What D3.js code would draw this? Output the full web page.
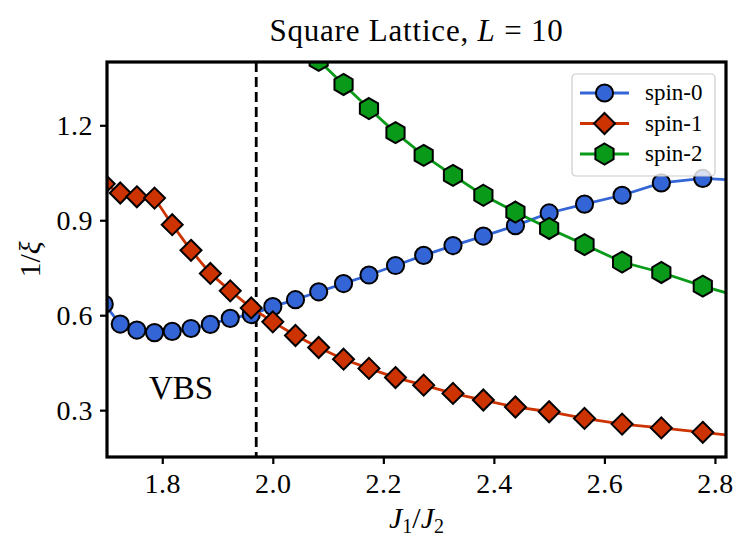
<!DOCTYPE html>
<html>
<head>
<meta charset="utf-8">
<script src="https://cdn.jsdelivr.net/npm/d3@7"></script>
<style>
  body { margin: 0; background: #fff; }
  svg text { font-family: "Liberation Serif", "DejaVu Serif", serif; fill: #000; }
</style>
</head>
<body>
<div id="chart"></div>
<script>
// J1/J2 values (points are evenly spaced in J2/J1)
const jRatio = [1.695, 1.724, 1.754, 1.786, 1.818, 1.852, 1.887, 1.923, 1.961, 2.000,
                2.041, 2.083, 2.128, 2.174, 2.222, 2.273, 2.326, 2.381, 2.439, 2.500,
                2.564, 2.632, 2.703, 2.778, 2.857];
const spin0 = [0.635, 0.572, 0.553, 0.545, 0.549, 0.558, 0.571, 0.590, 0.602, 0.627,
               0.649, 0.674, 0.700, 0.727, 0.757, 0.789, 0.820, 0.850, 0.883, 0.923,
               0.951, 0.979, 1.018, 1.032, 1.025];
const spin1 = [1.015, 0.986, 0.974, 0.970, 0.886, 0.805, 0.732, 0.677, 0.623, 0.579,
               0.536, 0.498, 0.461, 0.432, 0.403, 0.379, 0.353, 0.332, 0.310, 0.295,
               0.274, 0.256, 0.244, 0.230, 0.215];
// spin-2 is off the top of the plot for the small J1/J2 points
const spin2 = [null, null, null, null, null, null, null, null, null, null,
               null, 1.405, 1.329, 1.253, 1.177, 1.105, 1.042, 0.979, 0.926, 0.874,
               0.823, 0.768, 0.735, 0.692, 0.652];
const seriesNames = ["spin-0", "spin-1", "spin-2"];
const xTicks = [1.8, 2.0, 2.2, 2.4, 2.6, 2.8];
const yTicks = [0.3, 0.6, 0.9, 1.2];
const transitionJ = 1.97;

const W = 750, H = 554;
const margin = {top: 62, right: 24, bottom: 97, left: 107};
const w = W - margin.left - margin.right;
const h = H - margin.top - margin.bottom;

const x = d3.scaleLinear().domain([1.70, 2.82]).range([0, w]);
const y = d3.scaleLinear().domain([0.152, 1.40]).range([h, 0]);

const svg = d3.select("#chart").append("svg")
    .attr("width", W)
    .attr("height", H);

svg.append("defs").append("clipPath")
    .attr("id", "plotclip")
  .append("rect")
    .attr("width", w)
    .attr("height", h);

const g = svg.append("g")
    .attr("transform", `translate(${margin.left},${margin.top})`);

const plot = g.append("g").attr("clip-path", "url(#plotclip)");

// dashed vertical line at the transition
plot.append("line")
    .attr("x1", x(transitionJ)).attr("x2", x(transitionJ))
    .attr("y1", 0).attr("y2", h)
    .attr("stroke", "#000")
    .attr("stroke-width", 2.8)
    .attr("stroke-dasharray", "10,5");

const styles = [
  {color: "#3465d6", marker: "circle"},
  {color: "#cc3300", marker: "diamond"},
  {color: "#0a9a1a", marker: "hexagon"}
];

function markerPath(type) {
  if (type === "diamond") {
    const r = 10.5;
    return `M0,${-r}L${r},0L0,${r}L${-r},0Z`;
  }
  if (type === "hexagon") {
    const r = 10.5;
    const pts = d3.range(6).map(k => {
      const a = -Math.PI / 2 + k * Math.PI / 3;
      return [r * Math.cos(a), r * Math.sin(a)];
    });
    return "M" + pts.map(p => p.join(",")).join("L") + "Z";
  }
  return null;
}

function drawMarker(sel, type, color) {
  if (type === "circle") {
    sel.append("circle").attr("r", 8.6)
      .attr("fill", color).attr("stroke", "#000").attr("stroke-width", 2);
  } else {
    sel.append("path").attr("d", markerPath(type))
      .attr("fill", color).attr("stroke", "#000").attr("stroke-width", 2)
      .attr("stroke-linejoin", "miter");
  }
}

const line = d3.line()
    .defined(d => d[1] !== null)
    .x(d => x(d[0]))
    .y(d => y(d[1]));

[spin0, spin1, spin2].forEach((vals, i) => {
  const pts = jRatio.map((j, k) => [j, vals[k]]);
  plot.append("path")
      .attr("d", line(pts))
      .attr("fill", "none")
      .attr("stroke", styles[i].color)
      .attr("stroke-width", 2.8);
  plot.selectAll(".m" + i)
    .data(pts.filter(d => d[1] !== null))
    .enter().append("g")
      .attr("class", "m" + i)
      .attr("transform", d => `translate(${x(d[0])},${y(d[1])})`)
      .each(function() { drawMarker(d3.select(this), styles[i].marker, styles[i].color); });
});

// VBS label
g.append("text")
    .attr("x", x(1.834))
    .attr("y", y(0.335))
    .attr("text-anchor", "middle")
    .style("font-size", "33px")
    .text("VBS");

// axes
const xAxis = g.append("g")
    .attr("transform", `translate(0,${h})`)
    .call(d3.axisBottom(x).tickValues(xTicks).tickFormat(d3.format(".1f")).tickSize(7).tickPadding(9));
const yAxis = g.append("g")
    .call(d3.axisLeft(y).tickValues(yTicks).tickFormat(d3.format(".1f")).tickSize(7).tickPadding(7));
[xAxis, yAxis].forEach(a => {
  a.select(".domain").remove();
  a.selectAll(".tick line").attr("stroke", "#000").attr("stroke-width", 2.2);
  a.selectAll(".tick text").style("font-size", "28px").attr("fill", "#000")
    .style("font-family", "'Liberation Serif', serif")
    .style("letter-spacing", "0.5px");
});

// frame
g.append("rect")
    .attr("width", w)
    .attr("height", h)
    .attr("fill", "none")
    .attr("stroke", "#000")
    .attr("stroke-width", 3.2);

// legend
const legend = g.append("g").attr("transform", `translate(${w - 154},12)`);
legend.append("rect")
    .attr("width", 143)
    .attr("height", 102)
    .attr("rx", 4)
    .attr("fill", "#fff")
    .attr("fill-opacity", 0.8)
    .attr("stroke", "#cccccc")
    .attr("stroke-width", 1.2);
seriesNames.forEach((name, i) => {
  const row = legend.append("g").attr("transform", `translate(0,${19 + i * 30.5})`);
  row.append("line")
      .attr("x1", 8).attr("x2", 57)
      .attr("stroke", styles[i].color)
      .attr("stroke-width", 2.8);
  const mk = row.append("g").attr("transform", "translate(32.5,0)");
  drawMarker(mk, styles[i].marker, styles[i].color);
  row.append("text")
      .attr("x", 73)
      .attr("y", 7)
      .style("font-size", "23px")
      .text(name);
});

// title
svg.append("text")
    .attr("x", margin.left + w / 2)
    .attr("y", 41)
    .attr("text-anchor", "middle")
    .style("font-size", "31px")
    .style("letter-spacing", "0.8px")
    .html('Square Lattice, <tspan font-style="italic">L</tspan> = 10');

// x label
svg.append("text")
    .attr("x", margin.left + w / 2)
    .attr("y", 528)
    .attr("text-anchor", "middle")
    .style("font-size", "30px")
    .html('<tspan font-style="italic">J</tspan><tspan dy="5" font-size="20px">1</tspan><tspan dy="-5">/</tspan><tspan font-style="italic">J</tspan><tspan dy="5" font-size="20px">2</tspan>');

// y label
svg.append("text")
    .attr("transform", `translate(40,${margin.top + h / 2}) rotate(-90)`)
    .attr("text-anchor", "middle")
    .style("font-size", "30px")
    .html('1/<tspan font-style="italic">ξ</tspan>');
</script>
</body>
</html>
